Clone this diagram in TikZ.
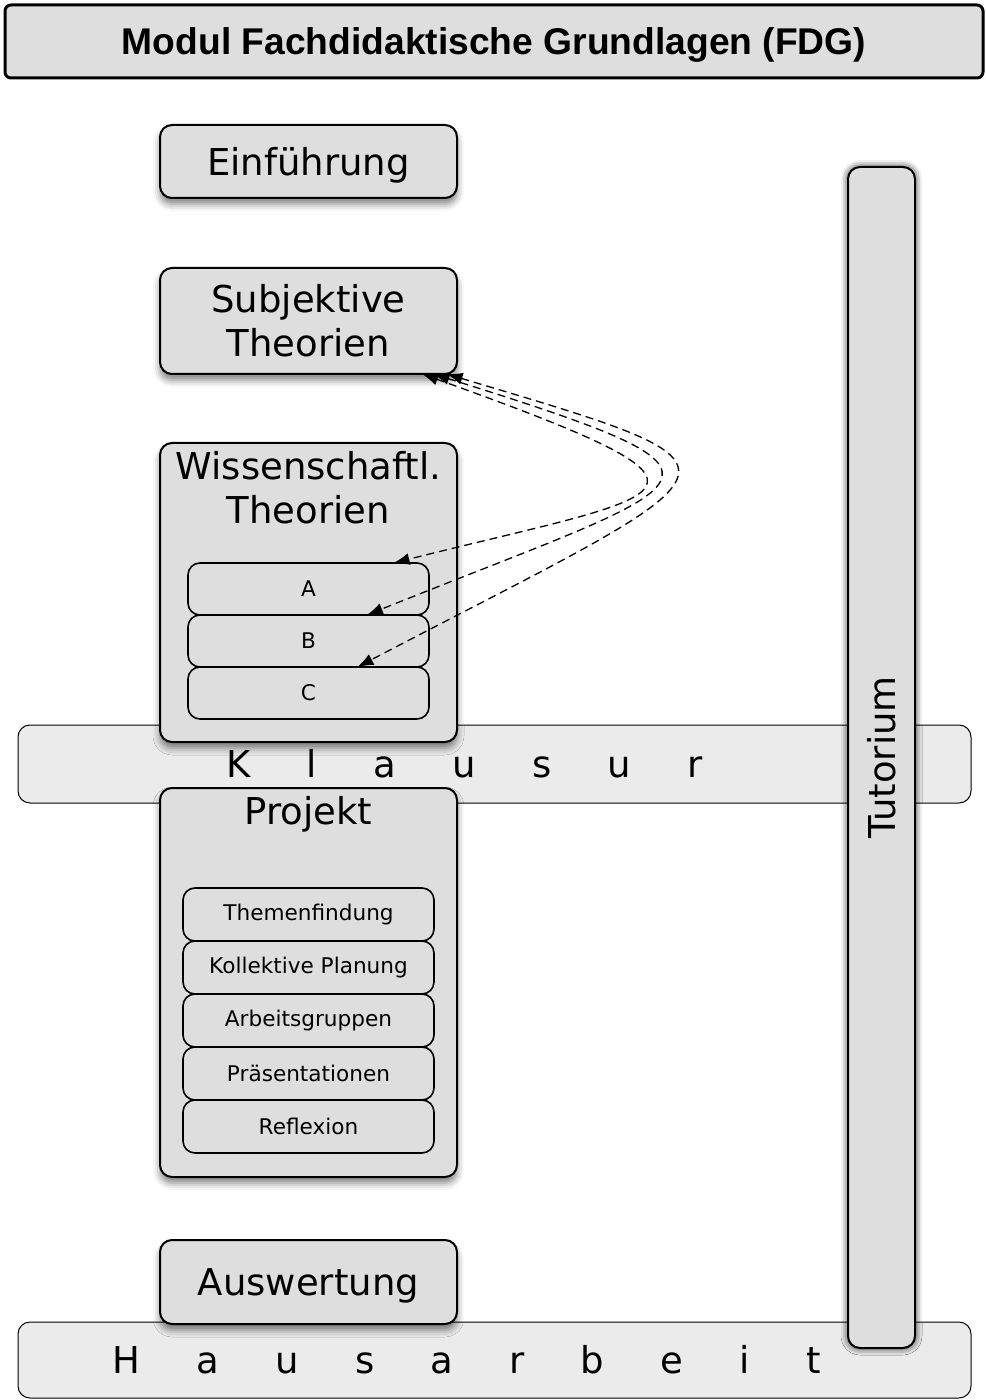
\documentclass[tikz,border=0pt]{standalone}
\usepackage{fontspec}
\setmainfont{DejaVu Sans}
\newfontfamily\titlefont{Liberation Sans}
\newfontfamily\spreadfont[LetterSpace=152]{DejaVu Sans}
\usetikzlibrary{positioning}
\usetikzlibrary{arrows.meta}
\usetikzlibrary{shadows.blur}
\definecolor{boxgray}{RGB}{222,222,222}
\definecolor{bandgray}{RGB}{235,235,235}

\begin{document}
\begin{tikzpicture}[x=0.5pt,y=-0.5pt,node distance=0pt,outer sep=0pt,
  box/.style={draw,line width=1pt,rounded corners=6pt,fill=boxgray,minimum width=148.5pt,inner sep=0pt,align=center,
    font=\fontsize{18.5}{22}\selectfont,
    blur shadow={shadow xshift=0pt,shadow yshift=-3pt,shadow blur radius=3.5pt,shadow opacity=50}},
  boxtitle/.style={inner sep=4pt,align=center,font=\fontsize{18.5}{22}\selectfont},
  band/.style={draw,line width=0.5pt,rounded corners=6pt,fill=bandgray,minimum width=476.5pt,inner sep=0pt,
    font=\spreadfont\fontsize{18.5}{22}\selectfont},
  part/.style={draw,line width=0.8pt,rounded corners=6pt,fill=boxgray,inner sep=0pt,font=\fontsize{10.8}{13}\selectfont},
  link/.style={dash pattern=on 4pt off 2.5pt,line width=0.65pt,{Latex[length=8pt,width=6pt]}-{Latex[length=8pt,width=6pt]}}]
  \useasboundingbox (0,0) rectangle (985,1400);
  \node[draw,line width=1.5pt,rounded corners=3pt,fill=boxgray,minimum width=489pt,minimum height=36.5pt,
    text height=13.3pt,text depth=-3pt,
    font=\titlefont\bfseries\fontsize{18.6}{22}\selectfont](title) at (494,41.5) {Modul Fachdidaktische Grundlagen (FDG)};
  \node[band,minimum height=39pt](klausur) at (494.5,764) {Klausur\kern30pt};
  \node[band,minimum height=38pt](hausarbeit) at (494.5,1360) {Hausarbeit\kern28pt};
  \node[box,minimum height=36.5pt,text depth=0pt](einf) at (308.5,161.5) {Einführung};
  \node[box,minimum height=53pt,below=35pt of einf](subj) {Subjektive\\Theorien};
  \node[box,minimum height=149.5pt,below=34.5pt of subj](wiss) {};
  \node[boxtitle,below=0pt of wiss.north](wisstitle) {Wissenschaftl.\\Theorien};
  \node[part,minimum width=120.5pt,minimum height=26pt,below=60pt of wiss.north](a) {A};
  \node[part,minimum width=120.5pt,minimum height=26pt,below=of a](b) {B};
  \node[part,minimum width=120.5pt,minimum height=26pt,below=of b](c) {C};
  \node[box,minimum height=194.5pt](projekt) at (308.5,982.5) {};
  \node[boxtitle,below=0pt of projekt.north](projekttitle) {Projekt};
  \node[part,minimum width=125.5pt,minimum height=26.5pt,below=50pt of projekt.north](themen) {Themenfindung};
  \node[part,minimum width=125.5pt,minimum height=26.5pt,below=of themen](planung) {Kollektive Planung};
  \node[part,minimum width=125.5pt,minimum height=26.5pt,below=of planung](gruppen) {Arbeitsgruppen};
  \node[part,minimum width=125.5pt,minimum height=26.5pt,below=of gruppen](praes) {Präsentationen};
  \node[part,minimum width=125.5pt,minimum height=26.5pt,below=of praes](reflex) {Reflexion};
  \node[box,minimum height=42pt,text depth=0pt](ausw) at (308.5,1282) {Auswertung};
  \node[box,rotate=90,minimum width=590.5pt,minimum height=33.5pt,
    blur shadow={shadow xshift=0pt,shadow yshift=0pt,shadow blur radius=3.5pt,shadow opacity=50}](tutorium) at (881.5,757.5) {Tutorium};
  \draw[link] (subj.-25) .. controls (760,495) and (680,491) .. (a.17);
  \draw[link] (subj.-23) .. controls (771,480) and (713,476) .. (b.24);
  \draw[link] (subj.-21) .. controls (774,472) and (754,460) .. (c.28);
\end{tikzpicture}
\end{document}
